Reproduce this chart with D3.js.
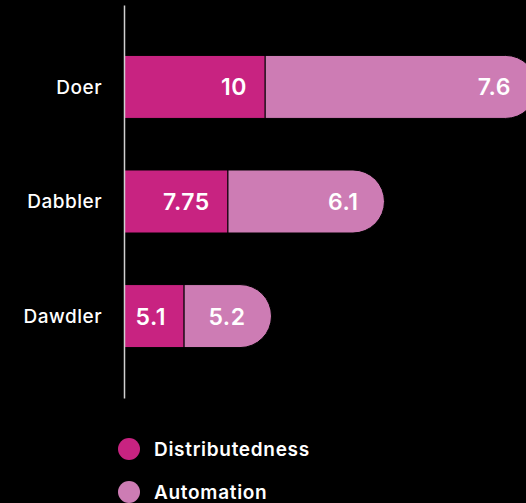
<!DOCTYPE html>
<html>
  <head>
    <meta charset="utf-8" />
    <title>Doer / Dabbler / Dawdler</title>
    <script src="https://d3js.org/d3.v7.min.js"></script>
    <style>
        body {
            margin:0;
            background:#000;
        }
        text {
            font-family: Inter, "Noto Sans", sans-serif;
        }
    </style>
  </head>
  <body>
      <svg id="viz"></svg>

    <script>

        var width = 526;
        var height = 503;

        // data
        var categories = ["Doer", "Dabbler", "Dawdler"];
        var distributedness = [10, 7.75, 5.1];
        var automation = [7.6, 6.1, 5.2];
        var seriesNames = ["Distributedness", "Automation"];
        var colors = ["#c82381", "#cd7cb4"];

        var svg = d3.select("#viz")
          .attr("width", width)
          .attr("height", height);

        svg.append("rect")
          .attr("width", width)
          .attr("height", height)
          .attr("fill", "#000");

        var x0 = 124;

        var y = d3.scaleBand()
          .domain(categories)
          .range([5, 398])
          .paddingInner(0.45)
          .paddingOuter(0.44);

        // the graphic sizes each series on its own scale
        var xDist = d3.scaleLinear().domain([1.48, 10]).range([0, 141]);
        var xAuto = d3.scaleLinear().domain([4.06, 7.6]).range([0, 272]);

        var rows = categories.map(function (c, i) {
            return {name: c, d: distributedness[i], a: automation[i]};
        });

        var bars = svg.append("g");

        // automation segment with the rounded end
        bars.selectAll("path.auto")
          .data(rows)
          .enter().append("path")
          .attr("class", "auto")
          .attr("fill", colors[1])
          .attr("stroke", "#000")
          .attr("stroke-width", 1)
          .attr("d", function (d) {
              var h = y.bandwidth();
              var r = h / 2;
              var s = x0 + xDist(d.d);
              var e = s + xAuto(d.a);
              var top = y(d.name);
              return "M" + s + "," + top +
                     "H" + (e - r) +
                     "A" + r + "," + r + " 0 0 1 " + (e - r) + "," + (top + h) +
                     "H" + s + "Z";
          });

        bars.selectAll("rect.dist")
          .data(rows)
          .enter().append("rect")
          .attr("class", "dist")
          .attr("fill", colors[0])
          .attr("stroke", "#000")
          .attr("stroke-width", 1)
          .attr("x", x0)
          .attr("y", function (d) { return y(d.name); })
          .attr("width", function (d) { return xDist(d.d); })
          .attr("height", y.bandwidth());

        // value labels
        bars.selectAll("text.dl")
          .data(rows)
          .enter().append("text")
          .attr("class", "dl")
          .attr("x", function (d) { return x0 + xDist(d.d) - 18; })
          .attr("y", function (d) { return y(d.name) + y.bandwidth() / 2 + 8.5; })
          .attr("text-anchor", "end")
          .attr("fill", "#fff")
          .style("font-size", "23px")
          .style("font-weight", 600)
          .style("letter-spacing", "0.5px")
          .text(function (d) { return d.d; });

        bars.selectAll("text.al")
          .data(rows)
          .enter().append("text")
          .attr("class", "al")
          .attr("x", function (d) { return x0 + xDist(d.d) + xAuto(d.a) - 26; })
          .attr("y", function (d) { return y(d.name) + y.bandwidth() / 2 + 8.5; })
          .attr("text-anchor", "end")
          .attr("fill", "#fff")
          .style("font-size", "23px")
          .style("font-weight", 600)
          .style("letter-spacing", "0.5px")
          .text(function (d) { return d.a; });

        // category axis
        var axis = svg.append("g")
          .attr("transform", "translate(" + x0 + ",0)")
          .call(d3.axisLeft(y).tickSize(0).tickPadding(22));

        axis.select(".domain")
          .attr("stroke", "#d0d0d0")
          .attr("stroke-width", 1.5);

        axis.selectAll("text")
          .attr("fill", "#fff")
          .attr("dy", "0.36em")
          .style("font-family", "Inter, 'Noto Sans', sans-serif")
          .style("font-size", "19px")
          .style("font-weight", 500)
          .style("letter-spacing", "0.5px");

        // legend
        var legend = svg.append("g")
          .selectAll("g")
          .data(seriesNames)
          .enter().append("g")
          .attr("transform", function (d, i) { return "translate(129," + (449 + i * 43) + ")"; });

        legend.append("circle")
          .attr("r", 11)
          .attr("fill", function (d, i) { return colors[i]; });

        legend.append("text")
          .attr("x", 25)
          .attr("y", 6.5)
          .attr("fill", "#fff")
          .style("font-size", "19px")
          .style("font-weight", 600)
          .style("letter-spacing", "0.7px")
          .text(function (d) { return d; });

    </script>
  </body>
</html>
